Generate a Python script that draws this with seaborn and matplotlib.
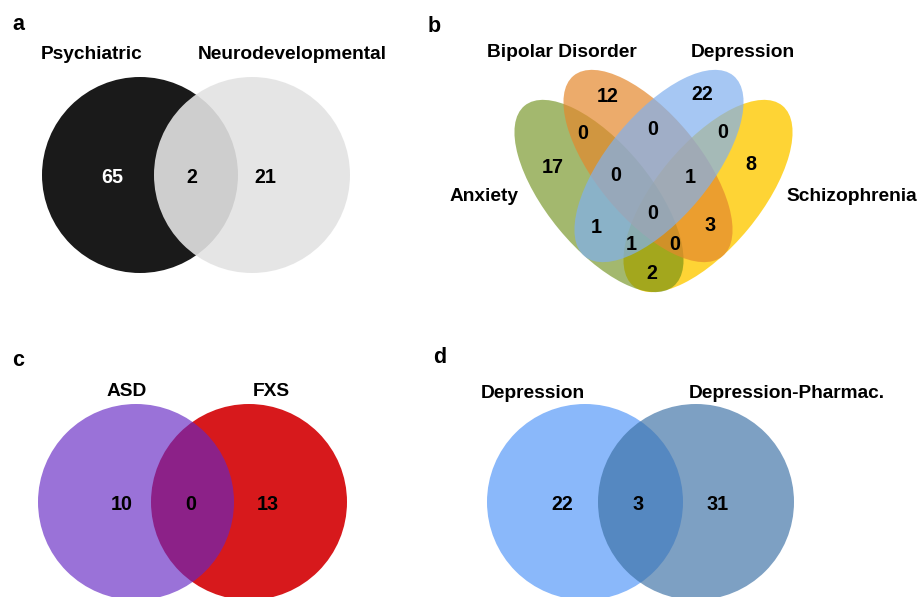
import matplotlib
matplotlib.use("Agg")
import matplotlib.pyplot as plt
from matplotlib.patches import Circle, Ellipse
import seaborn as sns

# ---- data -------------------------------------------------------------
# panel a: Psychiatric vs Neurodevelopmental (left only, shared, right only)
a_sets = ["Psychiatric", "Neurodevelopmental"]
a_counts = [65, 2, 21]

# panel b: four-set overlap
b_sets = ["Anxiety", "Bipolar Disorder", "Depression", "Schizophrenia"]
b_regions = ["A", "B", "D", "S", "AB", "BD", "DS", "ABD", "BDS",
             "ABDS", "AD", "BS", "ADS", "ABS", "AS"]
b_counts = [17, 12, 22, 8, 0, 0, 0, 0, 1, 0, 1, 3, 1, 0, 2]

# panel c: ASD vs FXS
c_sets = ["ASD", "FXS"]
c_counts = [10, 0, 13]

# panel d: Depression vs Depression-Pharmac.
d_sets = ["Depression", "Depression-Pharmac."]
d_counts = [22, 3, 31]

# ---- style ------------------------------------------------------------
sns.set_theme(style="white")
plt.rcParams["font.family"] = ["Liberation Sans", "DejaVu Sans"]
plt.rcParams["font.weight"] = "bold"

LABEL_FS = 13.8
NUM_FS = 14.2
PANEL_FS = 15.5
CAP = 7.0  # half digit height in px, used to centre numbers on their baseline


def rgb(r, g, b):
    return (r / 255, g / 255, b / 255)


fig = plt.figure(figsize=(9.2, 5.97), dpi=100)
ax = fig.add_axes([0, 0, 1, 1])
ax.set_xlim(0, 920)
ax.set_ylim(597, 0)
ax.set_aspect("equal")
ax.axis("off")


def num(x, y, v, color="black"):
    ax.text(x, y + CAP, str(v), ha="center", va="baseline",
            fontsize=NUM_FS, fontweight="bold", color=color)


def label(x, y, s):
    ax.text(x, y, s, ha="center", va="baseline",
            fontsize=LABEL_FS, fontweight="bold", color="black")


def panel(x, y, s):
    ax.text(x, y, s, ha="left", va="baseline",
            fontsize=PANEL_FS, fontweight="bold", color="black")


def circle(cx, cy, r, col, alpha):
    ax.add_patch(Circle((cx, cy), r, facecolor=col, alpha=alpha,
                        edgecolor="none"))


# ---- panel a ----------------------------------------------------------
panel(12, 30, "a")
circle(140, 175, 98, "#1a1a1a", 1.0)
circle(252, 175, 98, rgb(227, 227, 227), 0.9)
for (lx, ly), s in zip([(92, 59), (292, 59)], a_sets):
    label(lx, ly, s)
for x, v, c in zip([112, 192, 265], a_counts, ["white", "black", "black"]):
    num(x, 176, v, c)

# ---- panel b ----------------------------------------------------------
panel(428, 32, "b")
ell_w, ell_h, ell_ang = 234, 104, 50.5
ellipses = {
    "S": ((708, 196), -ell_ang, rgb(254, 202, 2), 0.8),
    "A": ((599, 196), ell_ang, rgb(102, 138, 13), 0.6),
    "B": ((648, 166), ell_ang, rgb(228, 136, 45), 0.7),
    "D": ((659, 166), -ell_ang, rgb(128, 176, 239), 0.7),
}
for key in ["S", "A", "B", "D"]:
    (cx, cy), ang, col, alp = ellipses[key]
    ax.add_patch(Ellipse((cx, cy), ell_w, ell_h, angle=ang,
                         facecolor=col, alpha=alp, edgecolor="none"))

b_label_pos = [(484, 201), (562, 57), (743, 57), (852, 201)]
for (lx, ly), s in zip(b_label_pos, b_sets):
    label(lx, ly, s)

b_region_pos = {
    "A": (553, 166), "B": (608, 95), "D": (702, 93), "S": (751, 163),
    "AB": (583, 132), "BD": (653, 128), "DS": (723, 131),
    "ABD": (616, 174), "BDS": (690, 176), "ABDS": (653, 212),
    "AD": (596, 226), "BS": (710, 224), "ADS": (631, 243),
    "ABS": (675, 243), "AS": (652, 272),
}
for reg, v in zip(b_regions, b_counts):
    x, y = b_region_pos[reg]
    num(x, y, v)

# ---- panel c ----------------------------------------------------------
panel(12, 366, "c")
circle(249, 502, 98, rgb(215, 25, 28), 1.0)      # FXS underneath
circle(136, 502, 98, rgb(100, 38, 195), 0.65)    # ASD on top
for (lx, ly), s in zip([(127, 396), (271, 396)], c_sets):
    label(lx, ly, s)
for x, v in zip([122, 191, 268], c_counts):
    num(x, 503, v)

# ---- panel d ----------------------------------------------------------
panel(433, 363, "d")
circle(585, 502, 98, rgb(138, 184, 250), 1.0)
circle(696, 502, 98, rgb(58, 111, 164), 0.66)
for (lx, ly), s in zip([(533, 398), (787, 398)], d_sets):
    label(lx, ly, s)
for x, v in zip([562, 638, 718], d_counts):
    num(x, 503, v)

fig.savefig("out.png", dpi=100, facecolor="white")
